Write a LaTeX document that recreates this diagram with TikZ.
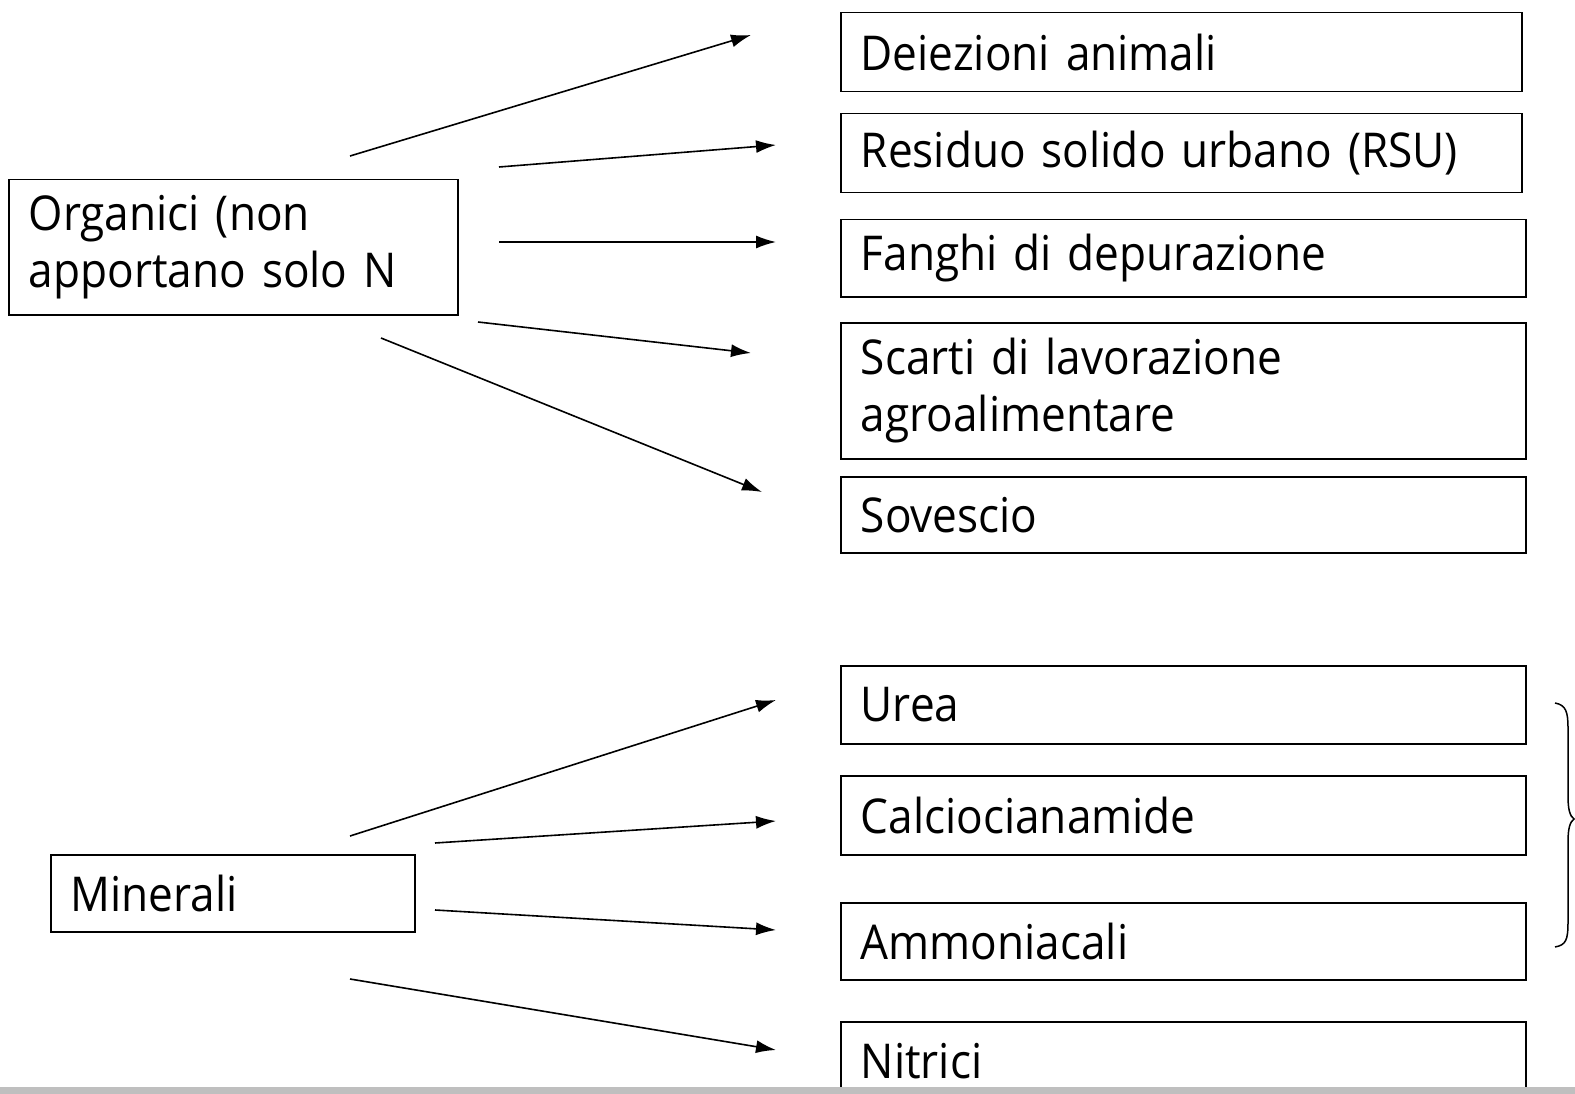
\documentclass[tikz,border=0pt]{standalone}
\usepackage{fontspec}
\setmainfont[FakeStretch=0.92]{Open Sans}
\usetikzlibrary{arrows.meta}
\begin{document}
\begin{tikzpicture}[x=1pt,y=-1pt,
  box/.style={draw, line width=1.5pt, anchor=north west, inner xsep=20pt, inner ysep=0pt, align=left, font=\fontsize{48}{57}\selectfont},
  arr/.style={line width=1.6pt, -{Latex[length=20pt,width=13pt]}},
  brc/.style={line width=1.5pt}]
\useasboundingbox (0,0) rectangle (1575,1094);
\fill[white] (0,0) rectangle (1575,1094);
% left boxes
\node[box, minimum width=449pt, minimum height=135pt, text width=409pt] (org) at (8,179) {Organici (non\\apportano solo N};
\node[box, minimum width=364pt, minimum height=77pt, text width=324pt] (min) at (50,854) {Minerali};
% right boxes
\node[box, minimum width=681pt, minimum height=79pt, text width=641pt] (dei) at (840,12) {Deiezioni animali};
\node[box, minimum width=681pt, minimum height=79pt, text width=641pt] (rsu) at (840,113) {Residuo solido urbano (RSU)};
\node[box, minimum width=685pt, minimum height=77pt, text width=645pt] (fan) at (840,219) {Fanghi di depurazione};
\node[box, minimum width=685pt, minimum height=136pt, text width=645pt] (sca) at (840,322) {Scarti di lavorazione\\agroalimentare};
\node[box, minimum width=685pt, minimum height=76pt, text width=645pt] (sov) at (840,476) {Sovescio};
\node[box, minimum width=685pt, minimum height=78pt, text width=645pt] (ure) at (840,665) {Urea};
\node[box, minimum width=685pt, minimum height=79pt, text width=645pt] (cal) at (840,775) {Calciocianamide};
\node[box, minimum width=685pt, minimum height=77pt, text width=645pt] (amm) at (840,902) {Ammoniacali};
\node[box, minimum width=685pt, minimum height=79pt, text width=645pt] (nit) at (840,1021) {Nitrici};
% bottom strip
\fill[gray!50] (0,1087) rectangle (1575,1094);
% arrow coordinates
\coordinate (o1s) at (350,156); \coordinate (o1e) at (751,35);
\coordinate (o2s) at (499,167); \coordinate (o2e) at (776,145);
\coordinate (o3s) at (499,242); \coordinate (o3e) at (776,242);
\coordinate (o4s) at (478,322); \coordinate (o4e) at (751,353);
\coordinate (o5s) at (381,338); \coordinate (o5e) at (762,492);
\coordinate (m1s) at (350,836); \coordinate (m1e) at (776,700);
\coordinate (m2s) at (435,843); \coordinate (m2e) at (776,821);
\coordinate (m3s) at (435,910); \coordinate (m3e) at (776,930);
\coordinate (m4s) at (350,979); \coordinate (m4e) at (776,1050);
\foreach \a in {o1,o2,o3,o4,o5,m1,m2,m3,m4} {\draw[arr] (\a s) -- (\a e);}
% brace
\draw[brc] (1555,703) .. controls (1566,705) and (1568,712) .. (1568,728) -- (1568,796) .. controls (1568,810) and (1570,816) .. (1574,819) .. controls (1570,822) and (1568,828) .. (1568,842) -- (1568,922) .. controls (1568,940) and (1566,945) .. (1555,947);
\end{tikzpicture}
\end{document}
